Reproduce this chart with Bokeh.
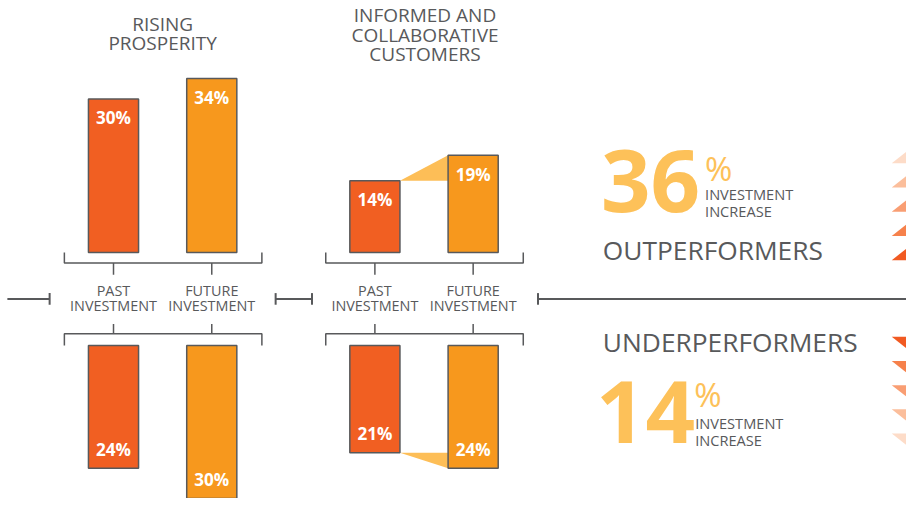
from bokeh.plotting import figure
from bokeh.models import Range1d
from bokeh.embed import file_html
from bokeh.resources import INLINE
from bokeh.core.properties import value

# ---------------- data ----------------
panel_titles = [["RISING", "PROSPERITY"], ["INFORMED AND", "COLLABORATIVE", "CUSTOMERS"]]
categories = [["PAST", "INVESTMENT"], ["FUTURE", "INVESTMENT"]]
out_past = [30, 14]        # outperformers, past investment (%)
out_future = [34, 19]      # outperformers, future investment (%)
under_past = [24, 21]      # underperformers, past investment (%)
under_future = [30, 24]    # underperformers, future investment (%)
out_increase = 36
under_increase = 14
group_labels = ["OUTPERFORMERS", "UNDERPERFORMERS"]
increase_label = ["INVESTMENT", "INCREASE"]

# ---------------- style / layout ----------------
C_PAST = "#F15F22"
C_FUT = "#F7981D"
C_WEDGE = "#FDBE57"
C_BIG = "#FDC159"
C_GRAY = "#58595B"
TRI_COLORS = ["#FDDCC8", "#FBBE9B", "#F99E73", "#F6814B", "#F15A22"]
FONT = value("Open Sans")

W, H = 906, 498
REF_W, REF_H = 922, 514
S = 0.975                  # font scale (figure is slightly smaller than reference)
DESC = 0.40                # baseline correction (fraction of font size)


def fs(px):
    return f"{px * S:.1f}px"


K = 5.28          # reference pixels per percentage point
CY = 308.0        # reference pixel row of the centre line


def Y(px):
    """convert a reference pixel row into the data y coordinate"""
    return (CY - px) / K


def TB(base_px, font_px, desc=DESC):
    """data y for a text whose letter baseline should sit at reference row base_px"""
    return Y(base_px - desc * font_px)


BASE = Y(260)     # distance of bar baselines from the centre line
panel_x0 = [65, 331]
bar_w = 51

p = figure(width=W, height=H, output_backend="svg", toolbar_location=None,
           x_range=Range1d(0, REF_W), y_range=Range1d(Y(REF_H), Y(0)),
           min_border=0)
p.axis.visible = False
p.grid.visible = False
p.outline_line_color = None
p.background_fill_color = "white"

xs_past = [x0 + 50 for x0 in panel_x0]
xs_fut = [x0 + 150 for x0 in panel_x0]

# ---------------- wedges (second panel) ----------------
i = 1
p.patch([xs_past[i] + bar_w / 2, xs_fut[i] - bar_w / 2, xs_fut[i] - bar_w / 2],
        [BASE + out_past[i], BASE + out_future[i], BASE + out_past[i]],
        fill_color=C_WEDGE, line_color=None)
p.patch([xs_past[i] + bar_w / 2, xs_fut[i] - bar_w / 2, xs_fut[i] - bar_w / 2],
        [-BASE - under_past[i], -BASE - under_past[i], -BASE - under_future[i]],
        fill_color=C_WEDGE, line_color=None)

# ---------------- bars ----------------
p.vbar(x=xs_past, width=bar_w, bottom=BASE, top=[BASE + v for v in out_past],
       fill_color=C_PAST, line_color=C_GRAY, line_width=1.5)
p.vbar(x=xs_fut, width=bar_w, bottom=BASE, top=[BASE + v for v in out_future],
       fill_color=C_FUT, line_color=C_GRAY, line_width=1.5)
p.vbar(x=xs_past, width=bar_w, top=-BASE, bottom=[-BASE - v for v in under_past],
       fill_color=C_PAST, line_color=C_GRAY, line_width=1.5)
p.vbar(x=xs_fut, width=bar_w, top=-BASE, bottom=[-BASE - v for v in under_future],
       fill_color=C_FUT, line_color=C_GRAY, line_width=1.5)

LF = 17.5
TOFF = (26.5 - DESC * LF) / K   # label baseline below top of upper bars
BOFF = (12.5 + DESC * LF) / K   # label baseline above bottom of lower bars
lab_x = xs_past + xs_fut + xs_past + xs_fut
lab_y = ([BASE + v - TOFF for v in out_past] + [BASE + v - TOFF for v in out_future] +
         [-BASE - v + BOFF for v in under_past] + [-BASE - v + BOFF for v in under_future])
lab_t = [f"{v}%" for v in out_past + out_future + under_past + under_future]
p.text(x=lab_x, y=lab_y, text=lab_t, text_color="white", text_font=FONT,
       text_font_style="bold", text_font_size=fs(LF), text_align="center",
       text_baseline="alphabetic")

# ---------------- brackets ----------------
bx, by = [], []
for x0, xp, xf in zip(panel_x0, xs_past, xs_fut):
    x1 = x0 + 201
    bx.append([x0, x0, x1, x1]); by.append([BASE, Y(271), Y(271), BASE])
    bx.append([xp, xp]); by.append([Y(271), Y(283)])
    bx.append([xf, xf]); by.append([Y(271), Y(283)])
    bx.append([x0, x0, x1, x1]); by.append([-BASE, Y(344), Y(344), -BASE])
    bx.append([xp, xp]); by.append([Y(344), Y(334)])
    bx.append([xf, xf]); by.append([Y(344), Y(334)])
p.multi_line(bx, by, line_color=C_GRAY, line_width=1.5)

# ---------------- centre line ----------------
cx = [[7, 50], [280, 317], [547, 930]]
cy = [[0, 0], [0, 0], [0, 0]]
for xc in [50, 280, 317, 547]:
    cx.append([xc, xc]); cy.append([Y(302), Y(314)])
p.multi_line(cx, cy, line_color=C_GRAY, line_width=2)

# category labels (two lines each)
CF = 14.8
cat_x, cat_y, cat_t = [], [], []
for xs, lines in zip([xs_past, xs_fut], categories):
    for xc in xs:
        for ln, base_px in zip(lines, [305, 321]):
            cat_x.append(xc); cat_y.append(TB(base_px, CF)); cat_t.append(ln)
p.text(x=cat_x, y=cat_y, text=cat_t, text_color=C_GRAY, text_font=FONT,
       text_font_size=fs(CF), text_align="center", text_baseline="alphabetic")

# panel titles
TF = 19.5
tt_x, tt_y, tt_t = [], [], []
for xc, lines, first in zip([165, 432], panel_titles, [32, 23]):
    for k, ln in enumerate(lines):
        tt_x.append(xc); tt_y.append(TB(first + 20 * k, TF)); tt_t.append(ln)
p.text(x=tt_x, y=tt_y, text=tt_t, text_color=C_GRAY, text_font=FONT,
       text_font_size=fs(TF), text_align="center", text_baseline="alphabetic")

# ---------------- right side ----------------
BF = 89
p.text(x=[611, 606], y=[TB(222, BF), TB(460, BF)],
       text=[str(out_increase), str(under_increase)],
       text_color=C_BIG, text_font=FONT, text_font_style="bold",
       text_font_size=fs(BF), text_align="left", text_baseline="alphabetic")
PF = 34
p.text(x=[717, 706], y=[TB(187, PF), TB(420, PF)], text=["%", "%"], text_color=C_BIG,
       text_font=FONT, text_font_size=fs(PF), text_align="left",
       text_baseline="alphabetic")
IF = 15
inc_x, inc_y, inc_t = [], [], []
for x0, b0 in [(717, 206), (707, 442)]:
    for k, ln in enumerate(increase_label):
        inc_x.append(x0); inc_y.append(TB(b0 + 17.5 * k, IF)); inc_t.append(ln)
p.text(x=inc_x, y=inc_y, text=inc_t, text_color=C_GRAY, text_font=FONT,
       text_font_size=fs(IF), text_align="left", text_baseline="alphabetic")
GF = 27
p.text(x=[613, 613], y=[TB(268, GF), TB(363, GF)], text=group_labels, text_color=C_GRAY,
       text_font=FONT, text_font_size=fs(GF), text_align="left",
       text_baseline="alphabetic")

# decorative triangles at right edge
tx, ty, tc = [], [], []
for j, col in enumerate(TRI_COLORS):
    yb = 168 + 25 * j
    tx.append([907, 937, 922]); ty.append([Y(yb), Y(yb), Y(yb - 12)]); tc.append(col)
for j, col in enumerate(reversed(TRI_COLORS)):
    yt = 347 + 25 * j
    tx.append([907, 937, 922]); ty.append([Y(yt), Y(yt), Y(yt + 12)]); tc.append(col)
p.patches(tx, ty, fill_color=tc, line_color=None)

open("out.html", "w").write(file_html(p, INLINE))
